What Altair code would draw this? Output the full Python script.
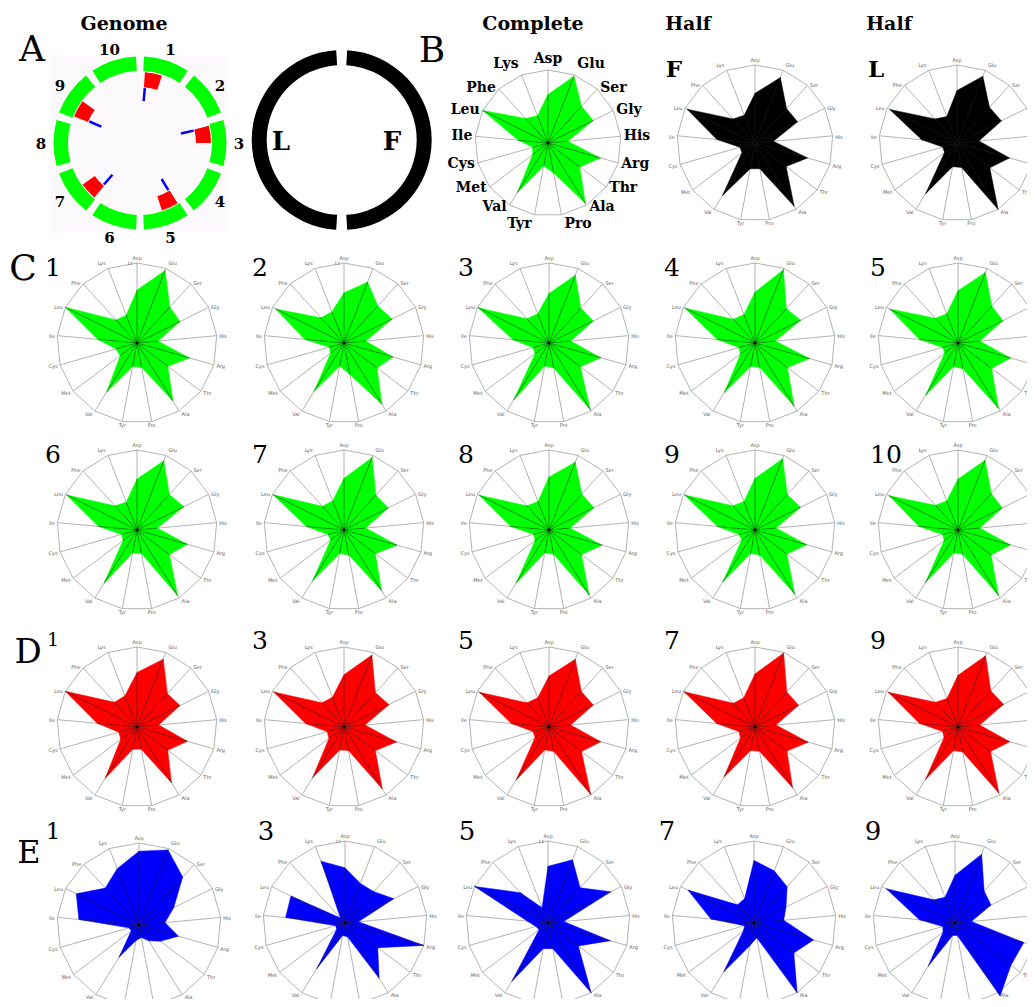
import math
import altair as alt
import pandas as pd

# ---------------- data ----------------
AMINO = ["Asp", "Glu", "Ser", "Gly", "His", "Arg", "Thr", "Ala", "Pro",
         "Tyr", "Val", "Met", "Cys", "Ile", "Leu", "Phe", "Lys"]
SCALE_MAX = 11.0

COMPLETE = [7.3, 10.8, 7.5, 7.6, 3.0, 8.2, 6.0, 10.7, 4.6, 3.5, 8.8, 2.9, 2.4, 4.5, 11.0, 5.0, 4.4]
HALF_F = [7.0, 9.9, 6.6, 6.7, 2.6, 7.7, 5.5, 10.5, 3.7, 3.7, 8.7, 2.3, 2.2, 5.4, 10.7, 4.6, 4.2]
HALF_L = [7.4, 10.1, 6.8, 7.0, 3.1, 7.7, 5.8, 11.0, 3.5, 3.4, 8.4, 2.2, 2.1, 5.0, 10.6, 4.6, 4.0]

C_VALUES = {
    "1": [7.3, 10.7, 6.7, 6.6, 2.9, 7.5, 5.3, 9.4, 3.4, 3.3, 7.9, 2.9, 3.0, 5.4, 11.0, 4.3, 4.1],
    "2": [6.9, 9.0, 6.9, 7.4, 3.0, 7.0, 5.7, 9.9, 4.4, 3.2, 7.8, 2.3, 2.1, 5.4, 10.5, 4.7, 4.6],
    "3": [6.8, 10.0, 6.5, 6.8, 3.0, 7.4, 5.4, 10.8, 3.5, 3.2, 9.2, 2.4, 2.3, 5.0, 10.9, 4.5, 4.3],
    "4": [7.0, 10.8, 6.4, 7.0, 2.8, 7.8, 5.6, 10.2, 3.4, 3.3, 8.0, 2.5, 2.3, 5.2, 10.8, 4.4, 4.2],
    "5": [7.2, 10.4, 6.9, 6.9, 3.0, 7.5, 5.8, 10.6, 3.6, 3.3, 8.4, 2.3, 2.2, 5.3, 10.5, 4.6, 4.3],
    "6": [7.0, 10.2, 6.6, 7.2, 2.8, 7.2, 5.6, 10.6, 3.3, 3.2, 8.6, 2.4, 2.2, 5.3, 10.8, 4.5, 4.1],
    "7": [7.1, 10.7, 6.5, 6.8, 3.0, 7.6, 5.4, 9.8, 3.5, 3.3, 8.2, 2.3, 2.3, 5.2, 10.9, 4.4, 4.3],
    "8": [7.3, 10.0, 6.7, 6.9, 2.9, 7.6, 5.6, 10.5, 3.4, 3.2, 8.6, 2.4, 2.2, 5.3, 10.7, 4.5, 4.2],
    "9": [7.1, 10.5, 6.6, 7.0, 2.9, 7.4, 5.5, 10.4, 3.5, 3.3, 8.4, 2.3, 2.3, 5.2, 10.8, 4.5, 4.2],
    "10": [7.0, 10.3, 6.8, 6.8, 3.0, 7.5, 5.7, 10.6, 3.4, 3.2, 8.5, 2.4, 2.2, 5.4, 10.6, 4.6, 4.3],
}
D_VALUES = {
    "1": [7.5, 10.0, 6.2, 6.6, 3.0, 7.2, 5.3, 9.0, 3.1, 3.1, 8.3, 2.8, 2.6, 5.5, 11.0, 4.6, 4.6],
    "3": [7.2, 10.6, 6.4, 6.9, 2.9, 7.5, 5.4, 10.0, 3.3, 3.2, 8.2, 2.6, 2.4, 5.3, 10.8, 4.5, 4.4],
    "5": [7.0, 10.0, 6.6, 6.8, 3.0, 7.4, 5.6, 10.9, 3.4, 3.2, 8.6, 2.4, 2.3, 5.2, 10.7, 4.5, 4.3],
    "7": [7.3, 10.9, 6.5, 6.7, 2.9, 7.6, 5.5, 9.8, 3.4, 3.3, 8.1, 2.5, 2.3, 5.3, 10.9, 4.4, 4.3],
    "9": [7.1, 10.5, 6.7, 7.0, 3.0, 7.4, 5.6, 10.7, 3.5, 3.3, 8.5, 2.4, 2.2, 5.3, 10.7, 4.6, 4.2],
}
E_VALUES = {
    "1": [9.9, 10.8, 8.7, 5.2, 3.5, 5.5, 3.6, 2.5, 1.7, 2.1, 5.1, 1.3, 1.4, 8.1, 9.4, 6.7, 8.1],
    "3": [7.4, 5.7, 5.7, 7.3, 1.8, 11.0, 5.5, 8.7, 1.9, 1.7, 7.2, 1.4, 1.3, 8.0, 8.1, 0.9, 8.9],
    "5": [7.6, 9.1, 6.4, 9.4, 2.1, 8.7, 5.1, 11.0, 3.5, 3.5, 9.2, 1.5, 1.7, 2.8, 11.0, 5.5, 2.2],
    "7": [8.4, 7.5, 6.6, 4.8, 4.0, 8.3, 6.7, 11.0, 2.0, 3.1, 7.7, 1.8, 1.3, 5.8, 9.9, 3.3, 3.5],
    "9": [6.4, 9.9, 5.8, 5.4, 2.2, 9.6, 9.4, 11.5, 1.7, 1.7, 6.8, 2.0, 1.7, 4.8, 10.3, 4.2, 3.7],
}

GENOME_SEGMENTS = [str(i) for i in range(1, 11)]
MARKED_SEGMENTS = [1, 3, 5, 7, 9]

# ---------------- layout / style ----------------
GREEN, RED, BLUE, BLACK = "#00ff00", "#ff0000", "#0000ff", "#000000"
SERIF = "DejaVu Serif"
COLS = [137, 344, 549, 755, 958]
E_COLS = [139, 345, 548, 754, 955]

panels = [
    dict(key="Complete", vals=COMPLETE, cx=548, cy=143, r=73, fill=GREEN, big=True),
    dict(key="HalfF", vals=HALF_F, cx=755, cy=143, r=78, fill=BLACK),
    dict(key="HalfL", vals=HALF_L, cx=957, cy=143, r=78, fill=BLACK),
]
for i, k in enumerate(["1", "2", "3", "4", "5"]):
    panels.append(dict(key="C" + k, vals=C_VALUES[k], cx=COLS[i], cy=343, r=80, fill=GREEN))
for i, k in enumerate(["6", "7", "8", "9", "10"]):
    panels.append(dict(key="C" + k, vals=C_VALUES[k], cx=COLS[i], cy=530, r=80, fill=GREEN))
for i, k in enumerate(["1", "3", "5", "7", "9"]):
    panels.append(dict(key="D" + k, vals=D_VALUES[k], cx=COLS[i], cy=727, r=80, fill=RED))
for i, k in enumerate(["1", "3", "5", "7", "9"]):
    panels.append(dict(key="E" + k, vals=E_VALUES[k], cx=E_COLS[i], cy=923 if k != "1" else 925,
                       r=82, fill=BLUE))

XS = alt.Scale(domain=[8, 1027], nice=False, zero=False)
YS = alt.Scale(domain=[8, 999], nice=False, zero=False, reverse=True)


def X(f="x"):
    return alt.X(f + ":Q", scale=XS, axis=None)


def Y(f="y"):
    return alt.Y(f + ":Q", scale=YS, axis=None)


# ---------------- build radar tables ----------------
spokes, rings, polys, inner, texts = [], [], [], [], []
n = len(AMINO)
for p in panels:
    cx, cy, R = p["cx"], p["cy"], p["r"]
    big = p.get("big", False)
    for i, aa in enumerate(AMINO):
        a = 2 * math.pi * i / n
        s, c = math.sin(a), math.cos(a)
        ex, ey = cx + R * s, cy - R * c
        spokes.append(dict(panel=p["key"], x=cx, y=cy, x2=ex, y2=ey))
        rings.append(dict(panel=p["key"], o=i, x=ex, y=ey))
        f = p["vals"][i] / SCALE_MAX
        vx, vy = cx + R * f * s, cy - R * f * c
        polys.append(dict(panel=p["key"], o=i, x=vx, y=vy, fill=p["fill"]))
        inner.append(dict(panel=p["key"], x=cx, y=cy, x2=vx, y2=vy))
        gap = 3 if big else 2.5
        lim = 0.1 if big else 0.25
        if abs(s) < lim:
            align, tx = "center", ex
        elif s > 0:
            align, tx = "left", ex + gap
        else:
            align, tx = "right", ex - gap
        if c > 0.9:
            base, ty = "bottom", ey - (4 if big else 2.5)
        elif c < -0.9:
            base, ty = "top", ey + (2 if big else 1.5)
        else:
            base, ty = "middle", ey + (1 if not big else 0) - c * 2
        texts.append(dict(x=tx, y=ty, text=aa, size=14 if big else 5,
                          color="#000000" if big else "#606060",
                          font=SERIF if big else "DejaVu Sans",
                          weight="bold" if big else "normal",
                          align=align, base=base))

for p in panels:
    if p["key"] in ("C1", "C2", "E3", "E5"):
        texts.append(dict(x=p["cx"] - 4, y=p["cy"] - p["r"] + 1, text="11", size=4.5,
                          color="#606060", font="DejaVu Sans", weight="normal",
                          align="right", base="middle"))


# ---------------- headings & panel letters ----------------
def T(x, y, t, size, weight="bold", align="center"):
    texts.append(dict(x=x, y=y, text=t, size=size, color="#000000", font=SERIF,
                      weight=weight, align=align, base="middle"))


T(124, 24, "Genome", 19)
T(533, 24, "Complete", 19)
T(688, 24, "Half", 19)
T(889, 24, "Half", 19)
T(674, 70, "F", 23)
T(876, 70, "L", 23)
T(281, 142, "L", 26)
T(392, 142, "F", 26)
T(32, 50, "A", 36, "normal")
T(432, 51, "B", 36, "normal")
T(23, 269, "C", 36, "normal")
T(28, 653, "D", 34, "normal")
T(29, 853, "E", 32, "normal")
T(53, 640, "1", 19, "normal")
T(53, 832, "1", 23, "normal")
for i, k in enumerate(["1", "2", "3", "4", "5"]):
    T([53, 260, 466, 672, 878][i], 268, k, 25, "normal")
for i, k in enumerate(["6", "7", "8", "9", "10"]):
    T([53, 260, 466, 672, 886][i], 455, k, 25, "normal")
for i, k in enumerate(["3", "5", "7", "9"]):
    T([260, 466, 672, 878][i], 641, k, 25, "normal")
for i, k in enumerate(["3", "5", "7", "9"]):
    T([266, 467, 667, 873][i], 832, k, 26, "normal")

# ---------------- genome map (panel A) ----------------
GX, GY = 140, 143
arcs = []
for k, name in enumerate(GENOME_SEGMENTS):
    a0 = k * 36 + 2.6
    a1 = (k + 1) * 36 - 2.6
    arcs.append(dict(cx=GX, cy=GY, t0=math.radians(a0), t1=math.radians(a1), r0=72, r1=86.5, color=GREEN))
    am = math.radians(k * 36 + 18)
    T(GX + 99 * math.sin(am), GY - 99 * math.cos(am) + 1, name, 15)
for k in MARKED_SEGMENTS:
    a0 = (k - 1) * 36 + 4
    arcs.append(dict(cx=GX, cy=GY, t0=math.radians(a0), t1=math.radians(a0 + 14), r0=56, r1=71, color=RED))
# two halves of the ring (L / F)
RX, RY = 341.7, 140
arcs.append(dict(cx=RX, cy=RY, t0=math.radians(3.5), t1=math.radians(176.5), r0=75, r1=90, color=BLACK))
arcs.append(dict(cx=RX, cy=RY, t0=math.radians(183.5), t1=math.radians(356.5), r0=75, r1=90, color=BLACK))

ticks = []
for k in MARKED_SEGMENTS:
    a = math.radians((k - 1) * 36 + 5)
    ticks.append(dict(x=GX + 42 * math.sin(a), y=GY - 42 * math.cos(a),
                      x2=GX + 55 * math.sin(a), y2=GY - 55 * math.cos(a)))

bg = pd.DataFrame([dict(x=50, y=55, x2=228, y2=231)])

# ---------------- layers ----------------
layers = []
layers.append(alt.Chart(bg).mark_rect(color="#fcf9fc").encode(x=X(), y=Y(), x2="x2:Q", y2="y2:Q"))
layers.append(alt.Chart(pd.DataFrame(arcs)).mark_arc(stroke=None).encode(
    x=X("cx"), y=Y("cy"),
    theta=alt.Theta("t0:Q", scale=None), theta2="t1:Q",
    radius=alt.Radius("r1:Q", scale=None), radius2="r0:Q",
    fill=alt.Fill("color:N", scale=None)))
layers.append(alt.Chart(pd.DataFrame(ticks)).mark_rule(color=BLUE, strokeWidth=2.5).encode(
    x=X(), y=Y(), x2="x2:Q", y2="y2:Q"))

layers.append(alt.Chart(pd.DataFrame(spokes)).mark_rule(color="#a0a0a0", strokeWidth=0.8).encode(
    x=X(), y=Y(), x2="x2:Q", y2="y2:Q"))
layers.append(alt.Chart(pd.DataFrame(rings)).mark_line(
    interpolate="linear-closed", color="#a0a0a0", strokeWidth=0.8).encode(
    x=X(), y=Y(), order="o:Q", detail="panel:N"))
layers.append(alt.Chart(pd.DataFrame(polys)).mark_line(
    interpolate="linear-closed", strokeWidth=0.5).encode(
    x=X(), y=Y(), order="o:Q", detail="panel:N",
    fill=alt.Fill("fill:N", scale=None), stroke=alt.Stroke("fill:N", scale=None)))
layers.append(alt.Chart(pd.DataFrame(inner)).mark_rule(color="#202020", strokeWidth=0.5).encode(
    x=X(), y=Y(), x2="x2:Q", y2="y2:Q"))
centers = pd.DataFrame([dict(x=p["cx"], y=p["cy"]) for p in panels])
layers.append(alt.Chart(centers).mark_point(filled=True, size=6, color="#000000", opacity=1).encode(
    x=X(), y=Y()))

tdf = pd.DataFrame(texts)
for (font, weight, align, base, color), g in tdf.groupby(["font", "weight", "align", "base", "color"]):
    small = color != "#000000"
    layers.append(alt.Chart(g).mark_text(font=font, fontWeight=weight, align=align, baseline=base,
                                         color=color, opacity=0.98 if small else 1).encode(
        x=X(), y=Y(), text="text:N", size=alt.Size("size:Q", scale=None)))

chart = alt.layer(*layers).properties(
    width=1019, height=991, padding=0, autosize=alt.AutoSizeParams(type="none")
).configure_view(stroke=None)

chart.save("out.html", embed_options={"renderer": "svg", "actions": False})
